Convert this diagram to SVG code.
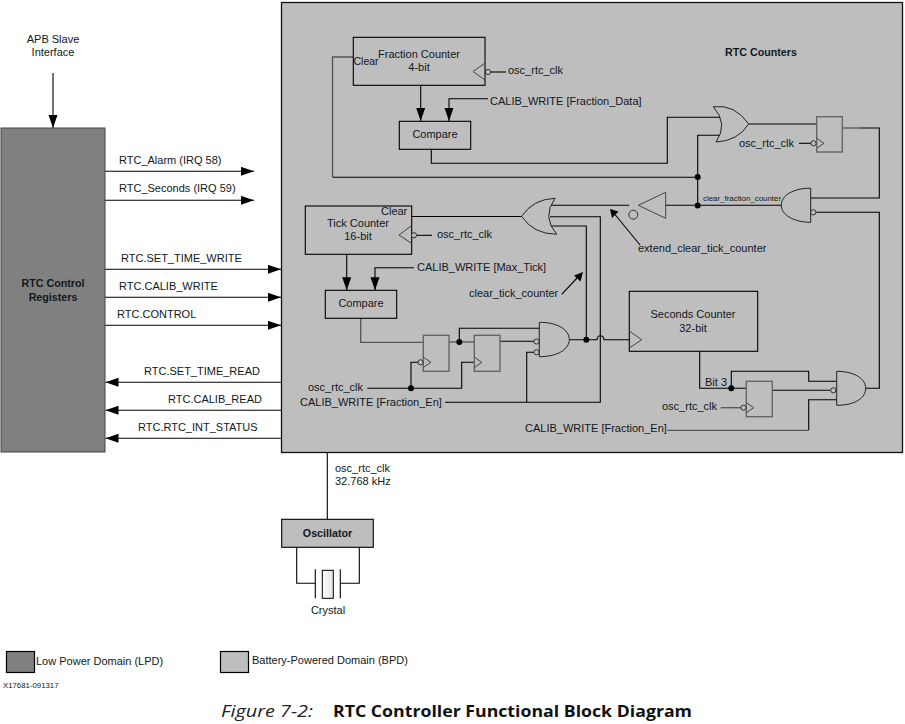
<svg xmlns="http://www.w3.org/2000/svg" width="905" height="724" viewBox="0 0 905 724">
<style>
text{font-family:"Liberation Sans",Arial,sans-serif;font-size:11px;fill:#101820}
.b{font-weight:bold;font-size:10.7px}.m{text-anchor:middle}
.w{fill:none;stroke:#000;stroke-width:1.1}
.g{fill:none;stroke:#555;stroke-width:1.3}
.box{fill:none;stroke:#000;stroke-width:1.1}
.ff{fill:none;stroke:#666;stroke-width:1.4}
.gate{fill:#bebebe;stroke:#222;stroke-width:1}
.tri{fill:none;stroke:#444;stroke-width:1}
.bub{fill:#bebebe;stroke:#222;stroke-width:.9}
.dot{fill:#000}
.ar{marker-end:url(#a)}
</style>
<defs>
<marker id="a" markerUnits="userSpaceOnUse" markerWidth="14" markerHeight="10" refX="13" refY="4.5" orient="auto"><path d="M0,0L13,4.5L0,9Z" fill="#000"/></marker>
<linearGradient id="x" x1="0" x2="1" y1="0" y2="0"><stop offset="0" stop-color="#fff"/><stop offset="1" stop-color="#e4e4e4"/></linearGradient>
</defs>
<rect width="905" height="724" fill="#fff"/>
<g id="bpd-panel"><rect x="281.5" y="2.5" width="621" height="450" fill="#bebebe" stroke="#111" stroke-width="1.3"/><text class="b" x="725" y="56">RTC Counters</text></g>
<g id="connectors">
<path class="w ar" d="M53,73V128"/>
<path class="w ar" d="M105,171.3H254"/><path class="w ar" d="M105,200.3H254"/>
<path class="w ar" d="M105,269.3H281"/><path class="w ar" d="M105,297.3H281"/><path class="w ar" d="M105,325.3H281"/>
<path class="w ar" d="M281,382.3H105.5"/><path class="w ar" d="M281,410.3H105.5"/><path class="w ar" d="M281,438.3H105.5"/>
<path class="w" d="M327.3,452V519"/>
<path class="w" d="M296.7,547V583.3H315.3M359.3,547V583.3H340.3"/>
<path class="w ar" d="M420.7,85V121"/><path class="w ar" d="M488,98.7H449V121"/>
<path class="g" d="M353,57H332.5V177"/><path class="w" d="M332.5,177.3H697.7"/>
<path class="w" d="M431.3,149V163.3H667.3V117.3H721"/>
<path class="w" d="M723,135.3H697.7V205.3"/>
<path class="w" d="M748.7,124H816.7"/>
<path class="g" d="M842,128H860"/><path class="w" d="M860,128H879.3V198H810.7"/>
<path class="w" d="M816,212.3H879.3V388.3H865.7"/>
<path class="w" d="M799,143.3H811"/>
<path class="w" d="M665.7,205.3H781.3"/>
<path class="w" d="M549,205.3H629.3"/>
<path class="w" d="M412,216.5H521.7"/>
<path class="w" d="M550,216.7H600.3V402.3H445"/>
<path class="w" d="M550,226H586.3V339.7"/>
<path class="w" d="M491,72H506"/><path class="w" d="M417,235.3H432"/>
<path class="w ar" d="M346.7,254V290.3"/><path class="w ar" d="M414,267.7H375V290.3"/>
<path class="g" d="M360.7,318V342.3H423.3"/>
<path class="g" d="M449,342H474.3"/>
<path class="w" d="M459.3,342V328.3H540"/>
<path class="w" d="M500,341.3H534"/>
<path class="w" d="M534,352.3H526.7V402.3"/>
<path class="w" d="M367.3,388.3H461.7V362.3H474.3"/>
<path class="w" d="M411,388.3V362.3H418"/>
<path class="w" d="M569.3,339.7H597a3.5,4 0 0 1 7,0H629.3"/>
<path class="w" d="M699.7,351V388.3H746.3"/>
<path class="w" d="M731.3,388.3V371.3H808.7V381.3H836.7"/>
<path class="w" d="M772.3,390.3H830.5"/>
<path class="w" d="M836.7,399.7H808.7V430.3"/><path class="g" d="M808.7,430.3H667.3"/>
<path class="g" d="M720.7,407.7H741"/>
<path class="w" d="M640,245L613,212"/><path d="M610,209L618.5,211.5L612,218Z" fill="#000"/>
<path class="w" d="M561.7,294.3L578,277"/><path d="M583,272L580.5,281.5L574,275.5Z" fill="#000"/>
<circle class="dot" cx="697.7" cy="177" r="3"/><circle class="dot" cx="697.7" cy="205.5" r="3"/>
<circle class="dot" cx="586.3" cy="339.7" r="3"/><circle class="dot" cx="459.3" cy="342" r="3"/>
<circle class="dot" cx="411" cy="388.3" r="3"/><circle class="dot" cx="731.3" cy="388.3" r="3"/>
</g>
<g id="rtc-control-registers"><rect x="1" y="128" width="104" height="324" fill="#808080" stroke="#444" stroke-width="1"/><text class="b m" x="53" y="287">RTC Control</text><text class="b m" x="53" y="301">Registers</text></g>
<g id="apb-label"><text class="m" x="53" y="43">APB Slave</text><text class="m" x="53" y="56">Interface</text></g>
<g id="signal-labels">
<text x="119" y="163.5">RTC_Alarm (IRQ 58)</text><text x="119" y="191.5">RTC_Seconds (IRQ 59)</text>
<text x="121" y="262">RTC.SET_TIME_WRITE</text><text x="119" y="290">RTC.CALIB_WRITE</text><text x="117" y="318">RTC.CONTROL</text>
<text x="144" y="375">RTC.SET_TIME_READ</text><text x="168" y="403">RTC.CALIB_READ</text><text x="138" y="431">RTC.RTC_INT_STATUS</text>
<text x="490" y="105">CALIB_WRITE [Fraction_Data]</text><text x="417" y="271">CALIB_WRITE [Max_Tick]</text>
<text x="469" y="297">clear_tick_counter</text><text x="638" y="252">extend_clear_tick_counter</text>
<text x="703" y="201" style="font-size:7.9px">clear_fraction_counter</text>
<text x="739" y="147">osc_rtc_clk</text><text x="308" y="391">osc_rtc_clk</text><text x="300" y="406">CALIB_WRITE [Fraction_En]</text>
<text x="705" y="386">Bit 3</text><text x="662" y="410">osc_rtc_clk</text><text x="525" y="432">CALIB_WRITE [Fraction_En]</text>
<text x="335" y="472">osc_rtc_clk</text><text x="335" y="485">32.768 kHz</text>
</g>
<g id="fraction-counter"><rect class="box" x="353.3" y="37.3" width="131.7" height="48"/><text class="m" x="419" y="58">Fraction Counter</text><text class="m" x="419" y="71">4-bit</text><text x="353.5" y="65" style="font-size:10.5px">Clear</text><path class="tri" d="M485,63L473,71.5L485,80"/><circle class="bub" cx="488" cy="72" r="2.6"/><text x="508" y="74">osc_rtc_clk</text></g>
<g id="compare-fraction"><rect class="box" x="399.3" y="121.3" width="71.4" height="28"/><text class="m" x="435" y="138">Compare</text></g>
<g id="tick-counter"><rect class="box" x="305.3" y="206" width="106.4" height="48.3"/><text x="381" y="215">Clear</text><text class="m" x="358" y="227">Tick Counter</text><text class="m" x="358" y="240">16-bit</text><path class="tri" d="M411.7,225.5L399,235L411.7,243.5"/><circle class="bub" cx="414" cy="235.3" r="2.6"/><text x="437" y="238">osc_rtc_clk</text></g>
<g id="compare-tick"><rect class="box" x="325.3" y="290.3" width="71.4" height="28"/><text class="m" x="361" y="307">Compare</text></g>
<g id="seconds-counter"><rect class="box" x="629.3" y="291.3" width="128.4" height="60"/><text class="m" x="693" y="318">Seconds Counter</text><text class="m" x="693" y="332">32-bit</text><path class="tri" d="M629.3,331L641.7,339.7L629.3,348"/></g>
<g id="or-fraction"><path class="gate" d="M713.3,106.7Q735,104 748.7,124Q738,141 716,142Q728.7,124 713.3,106.7Z"/></g>
<g id="ff-fraction"><rect class="ff" x="816.7" y="116.7" width="25.6" height="35.3"/><path class="tri" d="M816.7,138.3L824,143.3L816.7,148.3"/><circle class="bub" cx="813.5" cy="143.3" r="2.6"/></g>
<g id="and-clear-fraction"><path class="gate" d="M810.7,188.3C794,188 781.3,195 781.3,205.3C781.3,215 794,222.3 810.7,222.3Z"/><circle class="bub" cx="813.3" cy="212.3" r="2.6"/></g>
<g id="buffer"><path class="tri" d="M638.3,205.3L665.7,192.3V218.3Z" stroke="#555"/><circle cx="633.3" cy="214.7" r="4.5" fill="none" stroke="#333"/></g>
<g id="or-tick"><path class="gate" d="M555,198.3Q533,199 521.7,216.3Q533,234 556.7,234.3Q541.6,217 555,198.3Z"/></g>
<g id="ff-tick-1"><rect class="ff" x="423.3" y="335.3" width="25.7" height="36"/><path class="tri" d="M423.3,357.3L431,362.3L423.3,367.3"/><circle class="bub" cx="420.5" cy="362.3" r="2.6"/></g>
<g id="ff-tick-2"><rect class="ff" x="474.3" y="335.3" width="25.7" height="36"/><path class="tri" d="M474.3,357L481.7,362.3L474.3,367.7"/></g>
<g id="and-tick"><path class="gate" d="M539.3,322.3C558,322.3 569.3,330 569.3,339.5C569.3,349 558,356.7 539.3,356.7Z"/><circle class="bub" cx="536.5" cy="341.5" r="2.6"/><circle class="bub" cx="536.5" cy="352.3" r="2.6"/></g>
<g id="ff-seconds"><rect class="ff" x="746.3" y="381.3" width="26" height="35.4"/><path class="tri" d="M746.3,402.7L753.7,407.7L746.3,412.7"/><circle class="bub" cx="743.5" cy="407.7" r="2.6"/></g>
<g id="and-seconds"><path class="gate" d="M836.7,371.3C855,371.3 865.7,379 865.7,388.3C865.7,398 855,405.3 836.7,405.3Z"/><circle class="bub" cx="833.3" cy="390.3" r="2.6"/></g>
<g id="oscillator"><rect x="281.7" y="519.3" width="91.6" height="28" fill="#bebebe" stroke="#000" stroke-width="1.1"/><text class="b m" x="327.5" y="537">Oscillator</text></g>
<g id="crystal"><path class="w" d="M315.3,569.3V598.3M340.3,569.3V598.3"/><rect x="322.3" y="570.3" width="11" height="28" fill="url(#x)" stroke="#000"/><text class="m" x="328" y="614">Crystal</text></g>
<g id="legend-lpd"><rect x="6.5" y="651.5" width="28" height="21" fill="#808080" stroke="#000" stroke-width="1.2"/><text x="36" y="665">Low Power Domain (LPD)</text></g>
<g id="legend-bpd"><rect x="220.5" y="651.5" width="28" height="21" fill="#bebebe" stroke="#000" stroke-width="1.2"/><text x="252" y="664">Battery-Powered Domain (BPD)</text></g>
<text x="3" y="688" style="font-size:7.8px">X17681-091317</text>
<text x="221" y="717" textLength="92" lengthAdjust="spacingAndGlyphs" style="font-family:'Open Sans',sans-serif;font-style:italic;font-size:17px;fill:#222">Figure 7-2:</text>
<text x="333" y="717" textLength="359" lengthAdjust="spacingAndGlyphs" style="font-family:'Open Sans',sans-serif;font-weight:bold;font-size:16.5px;fill:#111">RTC Controller Functional Block Diagram</text>
</svg>
